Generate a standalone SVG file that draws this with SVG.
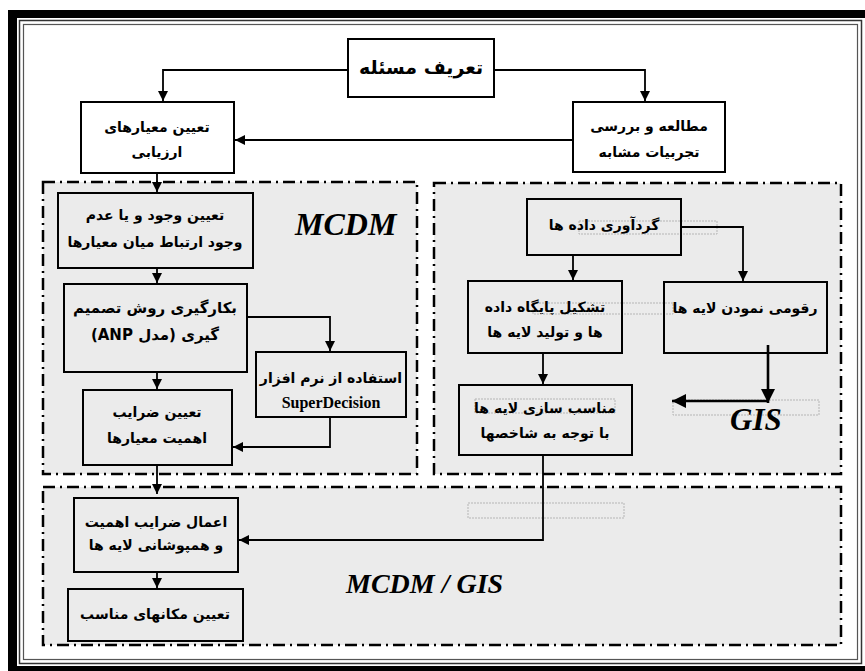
<svg xmlns="http://www.w3.org/2000/svg" width="865" height="671" viewBox="0 0 865 671">
<defs>
<marker id="ah" viewBox="0 0 10 10" refX="10" refY="5" markerWidth="10" markerHeight="10" markerUnits="userSpaceOnUse" orient="auto">
<path d="M0,0 L10,5 L0,10 Z" fill="#000"/>
</marker>
<marker id="ahb" viewBox="0 0 10 10" refX="10" refY="5" markerWidth="14" markerHeight="14" markerUnits="userSpaceOnUse" orient="auto">
<path d="M0,0 L10,5 L0,10 Z" fill="#000"/>
</marker>
</defs>
<style>
.box{fill:none;stroke:#000;stroke-width:2}
.wbox{fill:#fff;stroke:#000;stroke-width:2}
.region{fill:#ebebeb;stroke:#000;stroke-width:2.5;stroke-dasharray:12 5 2 5}
.faint{fill:none;stroke:#b5b5b5;stroke-width:1;stroke-dasharray:2 1}
.t{font-family:"DejaVu Sans",sans-serif;font-weight:bold;font-size:14px;fill:#000;text-anchor:middle;direction:rtl}
.lbl{font-family:"Liberation Serif",serif;font-weight:bold;font-style:italic;font-size:32px;fill:#000}
.c{fill:none;stroke:#000;stroke-width:1.8}
.cb{fill:none;stroke:#000;stroke-width:2.6}
</style>
<rect x="0" y="0" width="865" height="671" fill="#fff"/>
<g id="frame">
<rect x="8" y="10" width="857" height="8" fill="#000"/>
<rect x="8" y="10" width="9" height="661" fill="#000"/>
<rect x="8" y="666" width="857" height="5" fill="#000"/>
<rect x="19.5" y="20.5" width="842" height="643" fill="none" stroke="#333" stroke-width="1.5"/>
<rect x="23.5" y="24.5" width="834" height="635" fill="none" stroke="#555" stroke-width="1.2"/>
</g>
<g id="regions">
<rect class="region" x="43" y="182" width="374" height="292"/>
<rect class="region" x="434" y="183" width="407" height="291"/>
<rect class="region" x="43" y="487" width="798" height="158"/>
<rect class="faint" x="579" y="221" width="138" height="13"/>
<rect class="faint" x="533" y="303" width="140" height="11"/>
<rect class="faint" x="673" y="400" width="146" height="15"/>
<rect class="faint" x="475" y="399" width="140" height="14"/>
<rect class="faint" x="468" y="503" width="156" height="15"/>
</g>
<g id="connectors">
<path class="c" d="M348,70 H163 V101" marker-end="url(#ah)"/>
<path class="c" d="M494,70 H645 V101" marker-end="url(#ah)"/>
<path class="c" d="M573,140 H235" marker-end="url(#ah)"/>
<path class="c" d="M157,173 V192" marker-end="url(#ah)"/>
<path class="c" d="M157,268 V283" marker-end="url(#ah)"/>
<path class="c" d="M247,317 H330 V351" marker-end="url(#ah)"/>
<path class="c" d="M157,372 V389" marker-end="url(#ah)"/>
<path class="c" d="M330,417 V447 H233" marker-end="url(#ah)"/>
<path class="c" d="M157,465 V494" marker-end="url(#ah)"/>
<path class="c" d="M157,572 V588" marker-end="url(#ah)"/>
<path class="c" d="M681,227 H743 V281" marker-end="url(#ah)"/>
<path class="c" d="M573,255 V280" marker-end="url(#ah)"/>
<path class="c" d="M543,353 V384" marker-end="url(#ah)"/>
<path class="c" d="M543,455 V540 H239" marker-end="url(#ah)"/>
<path class="cb" d="M768,345 V403" marker-end="url(#ahb)"/>
<path class="cb" d="M768,401 H672" marker-end="url(#ahb)"/>
</g>
<g id="n-define">
<rect class="wbox" x="348" y="39" width="146" height="58"/>
<text class="t" x="421" y="74" style="font-size:19px">تعریف مسئله</text>
</g>
<g id="n-criteria">
<rect class="wbox" x="81" y="102" width="153" height="71"/>
<text class="t" x="157" y="132">تعیین معیارهای</text>
<text class="t" x="157" y="157">ارزیابی</text>
</g>
<g id="n-study">
<rect class="wbox" x="573" y="102" width="152" height="70"/>
<text class="t" x="649" y="131">مطالعه و بررسی</text>
<text class="t" x="649" y="157">تجربیات مشابه</text>
</g>
<g id="n-relation">
<rect class="box" x="58" y="193" width="195" height="75"/>
<text class="t" x="155" y="220">تعیین وجود و یا عدم</text>
<text class="t" x="155" y="247">وجود ارتباط میان معیارها</text>
</g>
<g id="n-anp">
<rect class="box" x="64" y="284" width="183" height="88"/>
<text class="t" x="155" y="313" style="font-size:15px">بکارگیری روش تصمیم</text>
<text class="t" x="155" y="340" style="font-size:15px">گیری (مدل ANP)</text>
</g>
<g id="n-superdecision">
<rect class="box" x="256" y="352" width="150" height="65"/>
<text class="t" x="331" y="383">استفاده از نرم افزار</text>
<text x="331" y="408" style="font-family:'Liberation Serif',serif;font-weight:bold;font-size:16px;text-anchor:middle">SuperDecision</text>
</g>
<g id="n-weights">
<rect class="box" x="83" y="390" width="149" height="75"/>
<text class="t" x="157" y="417">تعیین ضرایب</text>
<text class="t" x="157" y="443">اهمیت معیارها</text>
</g>
<g id="n-collect">
<rect class="box" x="527" y="199" width="154" height="56"/>
<text class="t" x="604" y="230">گردآوری داده ها</text>
</g>
<g id="n-database">
<rect class="box" x="468" y="281" width="154" height="72"/>
<text class="t" x="545" y="312">تشکیل پایگاه داده</text>
<text class="t" x="545" y="337">ها و تولید لایه ها</text>
</g>
<g id="n-digitize">
<rect class="box" x="664" y="282" width="163" height="71"/>
<text class="t" x="745" y="313">رقومی نمودن لایه ها</text>
</g>
<g id="n-adapt">
<rect class="box" x="459" y="385" width="173" height="70"/>
<text class="t" x="545" y="413">مناسب سازی لایه ها</text>
<text class="t" x="545" y="438">با توجه به شاخصها</text>
</g>
<g id="n-overlay">
<rect class="box" x="74" y="498" width="164" height="74"/>
<text class="t" x="156" y="527">اعمال ضرایب اهمیت</text>
<text class="t" x="156" y="550">و همپوشانی لایه ها</text>
</g>
<g id="n-sites">
<rect class="box" x="68" y="589" width="175" height="52"/>
<text class="t" x="155" y="619">تعیین مکانهای مناسب</text>
</g>
<g id="labels">
<text class="lbl" x="295" y="235">MCDM</text>
<text class="lbl" x="730" y="430" style="font-size:31px">GIS</text>
<text class="lbl" x="346" y="593" style="font-size:28px">MCDM / GIS</text>
</g>
</svg>
